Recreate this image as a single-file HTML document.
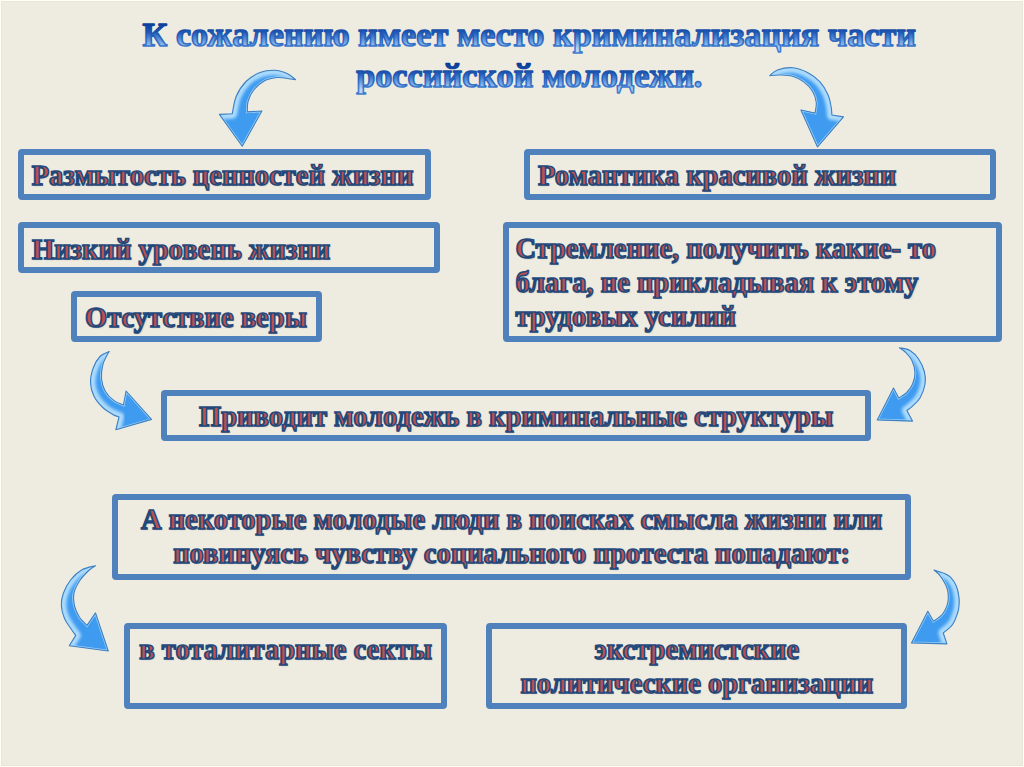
<!DOCTYPE html>
<html lang="ru"><head><meta charset="utf-8"><title>slide</title>
<style>
html,body{margin:0;padding:0;}
body{width:1024px;height:767px;overflow:hidden;background:#eeece1;position:relative;font-family:"Liberation Serif",serif;}
.bx{position:absolute;box-sizing:border-box;border:6px solid #4f81bd;border-radius:4px;}
.t{position:absolute;letter-spacing:0.04px;white-space:nowrap;font-weight:bold;font-size:28.44px;line-height:34.1px;color:#c0504d;-webkit-text-stroke:1.6px #1f497d;text-shadow:1px 1px 1.2px rgba(0,0,0,.3);}
.c{transform:translateX(-50%);text-align:center;}
svg{position:absolute;left:0;top:0;}
</style></head><body>
<svg width="1024" height="120" viewBox="0 0 1024 120" style="font-family:'Liberation Serif',serif;font-weight:bold;font-size:34.13px"><defs><linearGradient id="tf0" gradientUnits="userSpaceOnUse" x1="0" y1="22.0" x2="0" y2="49.0"><stop offset="0" stop-color="#08368f"/><stop offset="0.38" stop-color="#1d59bb"/><stop offset="0.8" stop-color="#82b2e9"/><stop offset="1" stop-color="#bcd7f5"/></linearGradient><linearGradient id="ts0" gradientUnits="userSpaceOnUse" x1="0" y1="22.0" x2="0" y2="49.0"><stop offset="0" stop-color="#0b3a96"/><stop offset="1" stop-color="#3f7dd2"/></linearGradient><linearGradient id="tf1" gradientUnits="userSpaceOnUse" x1="0" y1="62.8" x2="0" y2="89.8"><stop offset="0" stop-color="#08368f"/><stop offset="0.38" stop-color="#1d59bb"/><stop offset="0.8" stop-color="#82b2e9"/><stop offset="1" stop-color="#bcd7f5"/></linearGradient><linearGradient id="ts1" gradientUnits="userSpaceOnUse" x1="0" y1="62.8" x2="0" y2="89.8"><stop offset="0" stop-color="#0b3a96"/><stop offset="1" stop-color="#3f7dd2"/></linearGradient></defs><text x="529.3" y="46.0" text-anchor="middle" fill="url(#tf0)" stroke="url(#ts0)" stroke-width="1.55" stroke-linejoin="round" letter-spacing="0.05">К сожалению имеет место криминализация части</text><text x="529.3" y="86.8" text-anchor="middle" fill="url(#tf1)" stroke="url(#ts1)" stroke-width="1.55" stroke-linejoin="round" letter-spacing="0.05">российской молодежи.</text></svg>
<div class="bx" style="left:18.10px;top:148.50px;width:412.90px;height:51.25px"></div>
<div class="bx" style="left:18.10px;top:222.00px;width:421.90px;height:50.75px"></div>
<div class="bx" style="left:71.00px;top:291.20px;width:251.25px;height:51.10px"></div>
<div class="bx" style="left:524.30px;top:148.50px;width:471.70px;height:51.25px"></div>
<div class="bx" style="left:502.50px;top:222.00px;width:499.25px;height:120.40px"></div>
<div class="bx" style="left:161.25px;top:390.00px;width:709.75px;height:50.50px"></div>
<div class="bx" style="left:112.10px;top:493.75px;width:799.40px;height:85.85px"></div>
<div class="bx" style="left:124.25px;top:623.40px;width:323.00px;height:85.35px"></div>
<div class="bx" style="left:486.00px;top:623.25px;width:421.00px;height:85.50px"></div>
<div class="t" style="left:31.70px;top:158.54px">Размытость ценностей жизни</div>
<div class="t" style="left:32.00px;top:232.84px">Низкий уровень жизни</div>
<div class="t" style="left:85.00px;top:300.84px">Отсутствие веры</div>
<div class="t" style="left:538.00px;top:158.59px">Романтика красивой жизни</div>
<div class="t" style="left:515.40px;top:231.54px">Стремление, получить какие- то<br>блага, не прикладывая к этому<br>трудовых усилий</div>
<div class="t c" style="left:516.10px;top:400.09px">Приводит молодежь в криминальные структуры</div>
<div class="t c" style="left:511.60px;top:503.34px">А некоторые молодые люди в поисках смысла жизни или<br>повинуясь чувству социального протеста попадают:</div>
<div class="t" style="left:139.25px;top:632.59px">в тоталитарные секты</div>
<div class="t c" style="left:696.80px;top:632.59px">экстремистские<br>политические организации</div>
<svg width="1024" height="767" viewBox="0 0 1024 767"><defs><filter id="bl" x="-20%" y="-20%" width="140%" height="140%"><feGaussianBlur stdDeviation="1.6"/></filter><clipPath id="c0"><path d="M295.60 79.75C294.25 78.75 290.93 75.33 287.50 73.75C284.07 72.17 279.58 70.46 275.00 70.25C270.42 70.04 264.79 70.67 260.00 72.50C255.21 74.33 250.21 77.29 246.25 81.25C242.29 85.21 238.58 90.83 236.25 96.25C233.92 101.67 232.92 110.83 232.25 113.75L219.40 114.40L242.25 146.25L261.90 111.00L247.25 111.90C247.39 110.12 247.02 104.90 248.10 101.25C249.18 97.60 250.93 93.44 253.75 90.00C256.57 86.56 261.04 82.68 265.00 80.60C268.96 78.52 273.75 77.85 277.50 77.50C281.25 77.15 284.48 78.12 287.50 78.50C290.52 78.88 294.25 79.54 295.60 79.75Z"/></clipPath><clipPath id="c1"><path d="M769.75 75.60C771.04 74.67 773.71 71.31 777.50 70.00C781.29 68.69 787.50 67.33 792.50 67.75C797.50 68.17 802.92 70.14 807.50 72.50C812.08 74.86 816.57 78.15 820.00 81.90C823.43 85.65 826.23 90.73 828.10 95.00C829.98 99.27 830.62 104.17 831.25 107.50C831.88 110.83 831.79 113.75 831.90 115.00L843.50 116.90L817.50 146.90L800.90 110.00L815.00 113.10C815.21 111.33 816.67 106.14 816.25 102.50C815.83 98.86 814.58 94.68 812.50 91.25C810.42 87.82 807.08 84.40 803.75 81.90C800.42 79.40 796.46 77.40 792.50 76.25C788.54 75.10 783.79 75.11 780.00 75.00C776.21 74.89 771.46 75.50 769.75 75.60Z"/></clipPath><clipPath id="c2"><path d="M109.25 351.50C107.75 352.29 102.89 353.58 100.25 356.25C97.61 358.92 95.03 363.12 93.40 367.50C91.78 371.88 90.40 377.71 90.50 382.50C90.60 387.29 91.96 392.08 94.00 396.25C96.04 400.42 99.62 404.48 102.75 407.50C105.88 410.52 110.04 412.83 112.75 414.40C115.46 415.97 117.96 416.48 119.00 416.90L115.90 429.75L151.50 419.40L126.10 391.00L123.40 405.00C121.83 404.27 117.03 402.89 114.00 400.60C110.97 398.31 107.33 394.89 105.25 391.25C103.17 387.61 101.92 383.12 101.50 378.75C101.08 374.38 101.82 368.96 102.75 365.00C103.68 361.04 106.02 357.25 107.10 355.00C108.18 352.75 108.89 352.08 109.25 351.50Z"/></clipPath><clipPath id="c3"><path d="M899.40 347.75C901.17 348.21 906.77 348.58 910.00 350.50C913.23 352.42 916.35 355.71 918.75 359.25C921.15 362.79 923.36 367.58 924.40 371.75C925.44 375.92 925.73 379.88 925.00 384.25C924.27 388.62 922.08 394.36 920.00 398.00C917.92 401.64 914.68 404.02 912.50 406.10C910.32 408.18 907.83 409.77 906.90 410.50L912.50 421.10L877.25 419.90L893.50 388.00L898.75 398.00C900.00 397.17 903.96 395.29 906.25 393.00C908.54 390.71 911.04 387.58 912.50 384.25C913.96 380.92 915.10 376.96 915.00 373.00C914.90 369.04 913.57 364.04 911.90 360.50C910.23 356.96 907.08 353.88 905.00 351.75C902.92 349.62 900.33 348.42 899.40 347.75Z"/></clipPath><clipPath id="c4"><path d="M95.50 565.75C93.25 566.42 86.12 567.42 82.00 569.75C77.88 572.08 73.88 575.79 70.75 579.75C67.62 583.71 64.81 589.12 63.25 593.50C61.69 597.88 61.19 601.83 61.40 606.00C61.61 610.17 62.94 614.75 64.50 618.50C66.06 622.25 68.88 625.68 70.75 628.50C72.62 631.32 74.92 634.25 75.75 635.40L69.25 645.75L108.25 651.00L95.50 612.90L87.00 625.40C85.75 624.04 81.58 620.48 79.50 617.25C77.42 614.02 75.43 609.96 74.50 606.00C73.57 602.04 73.07 597.67 73.90 593.50C74.73 589.33 77.11 584.75 79.50 581.00C81.89 577.25 85.58 573.54 88.25 571.00C90.92 568.46 94.29 566.62 95.50 565.75Z"/></clipPath><clipPath id="c5"><path d="M934.00 570.00C935.78 570.60 941.95 572.40 944.70 573.60C947.45 574.80 948.58 575.17 950.50 577.20C952.42 579.23 954.78 582.45 956.20 585.80C957.62 589.15 958.53 593.95 959.00 597.30C959.47 600.65 959.23 603.28 959.00 605.90C958.77 608.52 958.67 609.90 957.60 613.00C956.53 616.10 954.98 621.17 952.60 624.50C950.22 627.83 944.85 631.58 943.30 633.00L946.90 643.90L911.50 642.90L927.80 611.30L933.50 621.20C934.42 620.57 937.37 618.77 939.00 617.40C940.63 616.03 941.98 614.92 943.30 613.00C944.62 611.08 946.07 608.28 946.90 605.90C947.73 603.52 948.18 601.33 948.30 598.70C948.42 596.07 948.20 592.72 947.60 590.10C947.00 587.48 946.13 585.62 944.70 583.00C943.27 580.38 940.78 576.57 939.00 574.40C937.22 572.23 934.83 570.73 934.00 570.00Z"/></clipPath></defs>
<path d="M295.60 79.75C294.25 78.75 290.93 75.33 287.50 73.75C284.07 72.17 279.58 70.46 275.00 70.25C270.42 70.04 264.79 70.67 260.00 72.50C255.21 74.33 250.21 77.29 246.25 81.25C242.29 85.21 238.58 90.83 236.25 96.25C233.92 101.67 232.92 110.83 232.25 113.75L219.40 114.40L242.25 146.25L261.90 111.00L247.25 111.90C247.39 110.12 247.02 104.90 248.10 101.25C249.18 97.60 250.93 93.44 253.75 90.00C256.57 86.56 261.04 82.68 265.00 80.60C268.96 78.52 273.75 77.85 277.50 77.50C281.25 77.15 284.48 78.12 287.50 78.50C290.52 78.88 294.25 79.54 295.60 79.75Z" fill="#3e9bf0"/>
<g clip-path="url(#c0)"><path d="M295.60 79.75C294.25 78.75 290.93 75.33 287.50 73.75C284.07 72.17 279.58 70.46 275.00 70.25C270.42 70.04 264.79 70.67 260.00 72.50C255.21 74.33 250.21 77.29 246.25 81.25C242.29 85.21 238.58 90.83 236.25 96.25C233.92 101.67 232.92 110.83 232.25 113.75L219.40 114.40" fill="none" stroke="#acdbfd" stroke-width="10" stroke-linejoin="round" filter="url(#bl)"/><path d="M295.60 79.75C294.25 78.75 290.93 75.33 287.50 73.75C284.07 72.17 279.58 70.46 275.00 70.25C270.42 70.04 264.79 70.67 260.00 72.50C255.21 74.33 250.21 77.29 246.25 81.25C242.29 85.21 238.58 90.83 236.25 96.25C233.92 101.67 232.92 110.83 232.25 113.75L219.40 114.40L242.25 146.25L261.90 111.00L247.25 111.90C247.39 110.12 247.02 104.90 248.10 101.25C249.18 97.60 250.93 93.44 253.75 90.00C256.57 86.56 261.04 82.68 265.00 80.60C268.96 78.52 273.75 77.85 277.50 77.50C281.25 77.15 284.48 78.12 287.50 78.50C290.52 78.88 294.25 79.54 295.60 79.75Z" fill="none" stroke="#a6d8fc" stroke-width="2.6" stroke-linejoin="miter" opacity=".85"/></g>
<path d="M295.60 79.75C294.25 78.75 290.93 75.33 287.50 73.75C284.07 72.17 279.58 70.46 275.00 70.25C270.42 70.04 264.79 70.67 260.00 72.50C255.21 74.33 250.21 77.29 246.25 81.25C242.29 85.21 238.58 90.83 236.25 96.25C233.92 101.67 232.92 110.83 232.25 113.75L219.40 114.40L242.25 146.25L261.90 111.00L247.25 111.90C247.39 110.12 247.02 104.90 248.10 101.25C249.18 97.60 250.93 93.44 253.75 90.00C256.57 86.56 261.04 82.68 265.00 80.60C268.96 78.52 273.75 77.85 277.50 77.50C281.25 77.15 284.48 78.12 287.50 78.50C290.52 78.88 294.25 79.54 295.60 79.75Z" fill="none" stroke="#3f80c2" stroke-width="1.1" stroke-linejoin="round"/>
<path d="M769.75 75.60C771.04 74.67 773.71 71.31 777.50 70.00C781.29 68.69 787.50 67.33 792.50 67.75C797.50 68.17 802.92 70.14 807.50 72.50C812.08 74.86 816.57 78.15 820.00 81.90C823.43 85.65 826.23 90.73 828.10 95.00C829.98 99.27 830.62 104.17 831.25 107.50C831.88 110.83 831.79 113.75 831.90 115.00L843.50 116.90L817.50 146.90L800.90 110.00L815.00 113.10C815.21 111.33 816.67 106.14 816.25 102.50C815.83 98.86 814.58 94.68 812.50 91.25C810.42 87.82 807.08 84.40 803.75 81.90C800.42 79.40 796.46 77.40 792.50 76.25C788.54 75.10 783.79 75.11 780.00 75.00C776.21 74.89 771.46 75.50 769.75 75.60Z" fill="#3e9bf0"/>
<g clip-path="url(#c1)"><path d="M769.75 75.60C771.04 74.67 773.71 71.31 777.50 70.00C781.29 68.69 787.50 67.33 792.50 67.75C797.50 68.17 802.92 70.14 807.50 72.50C812.08 74.86 816.57 78.15 820.00 81.90C823.43 85.65 826.23 90.73 828.10 95.00C829.98 99.27 830.62 104.17 831.25 107.50C831.88 110.83 831.79 113.75 831.90 115.00L843.50 116.90" fill="none" stroke="#acdbfd" stroke-width="10" stroke-linejoin="round" filter="url(#bl)"/><path d="M769.75 75.60C771.04 74.67 773.71 71.31 777.50 70.00C781.29 68.69 787.50 67.33 792.50 67.75C797.50 68.17 802.92 70.14 807.50 72.50C812.08 74.86 816.57 78.15 820.00 81.90C823.43 85.65 826.23 90.73 828.10 95.00C829.98 99.27 830.62 104.17 831.25 107.50C831.88 110.83 831.79 113.75 831.90 115.00L843.50 116.90L817.50 146.90L800.90 110.00L815.00 113.10C815.21 111.33 816.67 106.14 816.25 102.50C815.83 98.86 814.58 94.68 812.50 91.25C810.42 87.82 807.08 84.40 803.75 81.90C800.42 79.40 796.46 77.40 792.50 76.25C788.54 75.10 783.79 75.11 780.00 75.00C776.21 74.89 771.46 75.50 769.75 75.60Z" fill="none" stroke="#a6d8fc" stroke-width="2.6" stroke-linejoin="miter" opacity=".85"/></g>
<path d="M769.75 75.60C771.04 74.67 773.71 71.31 777.50 70.00C781.29 68.69 787.50 67.33 792.50 67.75C797.50 68.17 802.92 70.14 807.50 72.50C812.08 74.86 816.57 78.15 820.00 81.90C823.43 85.65 826.23 90.73 828.10 95.00C829.98 99.27 830.62 104.17 831.25 107.50C831.88 110.83 831.79 113.75 831.90 115.00L843.50 116.90L817.50 146.90L800.90 110.00L815.00 113.10C815.21 111.33 816.67 106.14 816.25 102.50C815.83 98.86 814.58 94.68 812.50 91.25C810.42 87.82 807.08 84.40 803.75 81.90C800.42 79.40 796.46 77.40 792.50 76.25C788.54 75.10 783.79 75.11 780.00 75.00C776.21 74.89 771.46 75.50 769.75 75.60Z" fill="none" stroke="#3f80c2" stroke-width="1.1" stroke-linejoin="round"/>
<path d="M109.25 351.50C107.75 352.29 102.89 353.58 100.25 356.25C97.61 358.92 95.03 363.12 93.40 367.50C91.78 371.88 90.40 377.71 90.50 382.50C90.60 387.29 91.96 392.08 94.00 396.25C96.04 400.42 99.62 404.48 102.75 407.50C105.88 410.52 110.04 412.83 112.75 414.40C115.46 415.97 117.96 416.48 119.00 416.90L115.90 429.75L151.50 419.40L126.10 391.00L123.40 405.00C121.83 404.27 117.03 402.89 114.00 400.60C110.97 398.31 107.33 394.89 105.25 391.25C103.17 387.61 101.92 383.12 101.50 378.75C101.08 374.38 101.82 368.96 102.75 365.00C103.68 361.04 106.02 357.25 107.10 355.00C108.18 352.75 108.89 352.08 109.25 351.50Z" fill="#3e9bf0"/>
<g clip-path="url(#c2)"><path d="M109.25 351.50C107.75 352.29 102.89 353.58 100.25 356.25C97.61 358.92 95.03 363.12 93.40 367.50C91.78 371.88 90.40 377.71 90.50 382.50C90.60 387.29 91.96 392.08 94.00 396.25C96.04 400.42 99.62 404.48 102.75 407.50C105.88 410.52 110.04 412.83 112.75 414.40C115.46 415.97 117.96 416.48 119.00 416.90L115.90 429.75" fill="none" stroke="#acdbfd" stroke-width="10" stroke-linejoin="round" filter="url(#bl)"/><path d="M109.25 351.50C107.75 352.29 102.89 353.58 100.25 356.25C97.61 358.92 95.03 363.12 93.40 367.50C91.78 371.88 90.40 377.71 90.50 382.50C90.60 387.29 91.96 392.08 94.00 396.25C96.04 400.42 99.62 404.48 102.75 407.50C105.88 410.52 110.04 412.83 112.75 414.40C115.46 415.97 117.96 416.48 119.00 416.90L115.90 429.75L151.50 419.40L126.10 391.00L123.40 405.00C121.83 404.27 117.03 402.89 114.00 400.60C110.97 398.31 107.33 394.89 105.25 391.25C103.17 387.61 101.92 383.12 101.50 378.75C101.08 374.38 101.82 368.96 102.75 365.00C103.68 361.04 106.02 357.25 107.10 355.00C108.18 352.75 108.89 352.08 109.25 351.50Z" fill="none" stroke="#a6d8fc" stroke-width="2.6" stroke-linejoin="miter" opacity=".85"/></g>
<path d="M109.25 351.50C107.75 352.29 102.89 353.58 100.25 356.25C97.61 358.92 95.03 363.12 93.40 367.50C91.78 371.88 90.40 377.71 90.50 382.50C90.60 387.29 91.96 392.08 94.00 396.25C96.04 400.42 99.62 404.48 102.75 407.50C105.88 410.52 110.04 412.83 112.75 414.40C115.46 415.97 117.96 416.48 119.00 416.90L115.90 429.75L151.50 419.40L126.10 391.00L123.40 405.00C121.83 404.27 117.03 402.89 114.00 400.60C110.97 398.31 107.33 394.89 105.25 391.25C103.17 387.61 101.92 383.12 101.50 378.75C101.08 374.38 101.82 368.96 102.75 365.00C103.68 361.04 106.02 357.25 107.10 355.00C108.18 352.75 108.89 352.08 109.25 351.50Z" fill="none" stroke="#3f80c2" stroke-width="1.1" stroke-linejoin="round"/>
<path d="M899.40 347.75C901.17 348.21 906.77 348.58 910.00 350.50C913.23 352.42 916.35 355.71 918.75 359.25C921.15 362.79 923.36 367.58 924.40 371.75C925.44 375.92 925.73 379.88 925.00 384.25C924.27 388.62 922.08 394.36 920.00 398.00C917.92 401.64 914.68 404.02 912.50 406.10C910.32 408.18 907.83 409.77 906.90 410.50L912.50 421.10L877.25 419.90L893.50 388.00L898.75 398.00C900.00 397.17 903.96 395.29 906.25 393.00C908.54 390.71 911.04 387.58 912.50 384.25C913.96 380.92 915.10 376.96 915.00 373.00C914.90 369.04 913.57 364.04 911.90 360.50C910.23 356.96 907.08 353.88 905.00 351.75C902.92 349.62 900.33 348.42 899.40 347.75Z" fill="#3e9bf0"/>
<g clip-path="url(#c3)"><path d="M899.40 347.75C901.17 348.21 906.77 348.58 910.00 350.50C913.23 352.42 916.35 355.71 918.75 359.25C921.15 362.79 923.36 367.58 924.40 371.75C925.44 375.92 925.73 379.88 925.00 384.25C924.27 388.62 922.08 394.36 920.00 398.00C917.92 401.64 914.68 404.02 912.50 406.10C910.32 408.18 907.83 409.77 906.90 410.50L912.50 421.10" fill="none" stroke="#acdbfd" stroke-width="10" stroke-linejoin="round" filter="url(#bl)"/><path d="M899.40 347.75C901.17 348.21 906.77 348.58 910.00 350.50C913.23 352.42 916.35 355.71 918.75 359.25C921.15 362.79 923.36 367.58 924.40 371.75C925.44 375.92 925.73 379.88 925.00 384.25C924.27 388.62 922.08 394.36 920.00 398.00C917.92 401.64 914.68 404.02 912.50 406.10C910.32 408.18 907.83 409.77 906.90 410.50L912.50 421.10L877.25 419.90L893.50 388.00L898.75 398.00C900.00 397.17 903.96 395.29 906.25 393.00C908.54 390.71 911.04 387.58 912.50 384.25C913.96 380.92 915.10 376.96 915.00 373.00C914.90 369.04 913.57 364.04 911.90 360.50C910.23 356.96 907.08 353.88 905.00 351.75C902.92 349.62 900.33 348.42 899.40 347.75Z" fill="none" stroke="#a6d8fc" stroke-width="2.6" stroke-linejoin="miter" opacity=".85"/></g>
<path d="M899.40 347.75C901.17 348.21 906.77 348.58 910.00 350.50C913.23 352.42 916.35 355.71 918.75 359.25C921.15 362.79 923.36 367.58 924.40 371.75C925.44 375.92 925.73 379.88 925.00 384.25C924.27 388.62 922.08 394.36 920.00 398.00C917.92 401.64 914.68 404.02 912.50 406.10C910.32 408.18 907.83 409.77 906.90 410.50L912.50 421.10L877.25 419.90L893.50 388.00L898.75 398.00C900.00 397.17 903.96 395.29 906.25 393.00C908.54 390.71 911.04 387.58 912.50 384.25C913.96 380.92 915.10 376.96 915.00 373.00C914.90 369.04 913.57 364.04 911.90 360.50C910.23 356.96 907.08 353.88 905.00 351.75C902.92 349.62 900.33 348.42 899.40 347.75Z" fill="none" stroke="#3f80c2" stroke-width="1.1" stroke-linejoin="round"/>
<path d="M95.50 565.75C93.25 566.42 86.12 567.42 82.00 569.75C77.88 572.08 73.88 575.79 70.75 579.75C67.62 583.71 64.81 589.12 63.25 593.50C61.69 597.88 61.19 601.83 61.40 606.00C61.61 610.17 62.94 614.75 64.50 618.50C66.06 622.25 68.88 625.68 70.75 628.50C72.62 631.32 74.92 634.25 75.75 635.40L69.25 645.75L108.25 651.00L95.50 612.90L87.00 625.40C85.75 624.04 81.58 620.48 79.50 617.25C77.42 614.02 75.43 609.96 74.50 606.00C73.57 602.04 73.07 597.67 73.90 593.50C74.73 589.33 77.11 584.75 79.50 581.00C81.89 577.25 85.58 573.54 88.25 571.00C90.92 568.46 94.29 566.62 95.50 565.75Z" fill="#3e9bf0"/>
<g clip-path="url(#c4)"><path d="M95.50 565.75C93.25 566.42 86.12 567.42 82.00 569.75C77.88 572.08 73.88 575.79 70.75 579.75C67.62 583.71 64.81 589.12 63.25 593.50C61.69 597.88 61.19 601.83 61.40 606.00C61.61 610.17 62.94 614.75 64.50 618.50C66.06 622.25 68.88 625.68 70.75 628.50C72.62 631.32 74.92 634.25 75.75 635.40L69.25 645.75" fill="none" stroke="#acdbfd" stroke-width="10" stroke-linejoin="round" filter="url(#bl)"/><path d="M95.50 565.75C93.25 566.42 86.12 567.42 82.00 569.75C77.88 572.08 73.88 575.79 70.75 579.75C67.62 583.71 64.81 589.12 63.25 593.50C61.69 597.88 61.19 601.83 61.40 606.00C61.61 610.17 62.94 614.75 64.50 618.50C66.06 622.25 68.88 625.68 70.75 628.50C72.62 631.32 74.92 634.25 75.75 635.40L69.25 645.75L108.25 651.00L95.50 612.90L87.00 625.40C85.75 624.04 81.58 620.48 79.50 617.25C77.42 614.02 75.43 609.96 74.50 606.00C73.57 602.04 73.07 597.67 73.90 593.50C74.73 589.33 77.11 584.75 79.50 581.00C81.89 577.25 85.58 573.54 88.25 571.00C90.92 568.46 94.29 566.62 95.50 565.75Z" fill="none" stroke="#a6d8fc" stroke-width="2.6" stroke-linejoin="miter" opacity=".85"/></g>
<path d="M95.50 565.75C93.25 566.42 86.12 567.42 82.00 569.75C77.88 572.08 73.88 575.79 70.75 579.75C67.62 583.71 64.81 589.12 63.25 593.50C61.69 597.88 61.19 601.83 61.40 606.00C61.61 610.17 62.94 614.75 64.50 618.50C66.06 622.25 68.88 625.68 70.75 628.50C72.62 631.32 74.92 634.25 75.75 635.40L69.25 645.75L108.25 651.00L95.50 612.90L87.00 625.40C85.75 624.04 81.58 620.48 79.50 617.25C77.42 614.02 75.43 609.96 74.50 606.00C73.57 602.04 73.07 597.67 73.90 593.50C74.73 589.33 77.11 584.75 79.50 581.00C81.89 577.25 85.58 573.54 88.25 571.00C90.92 568.46 94.29 566.62 95.50 565.75Z" fill="none" stroke="#3f80c2" stroke-width="1.1" stroke-linejoin="round"/>
<path d="M934.00 570.00C935.78 570.60 941.95 572.40 944.70 573.60C947.45 574.80 948.58 575.17 950.50 577.20C952.42 579.23 954.78 582.45 956.20 585.80C957.62 589.15 958.53 593.95 959.00 597.30C959.47 600.65 959.23 603.28 959.00 605.90C958.77 608.52 958.67 609.90 957.60 613.00C956.53 616.10 954.98 621.17 952.60 624.50C950.22 627.83 944.85 631.58 943.30 633.00L946.90 643.90L911.50 642.90L927.80 611.30L933.50 621.20C934.42 620.57 937.37 618.77 939.00 617.40C940.63 616.03 941.98 614.92 943.30 613.00C944.62 611.08 946.07 608.28 946.90 605.90C947.73 603.52 948.18 601.33 948.30 598.70C948.42 596.07 948.20 592.72 947.60 590.10C947.00 587.48 946.13 585.62 944.70 583.00C943.27 580.38 940.78 576.57 939.00 574.40C937.22 572.23 934.83 570.73 934.00 570.00Z" fill="#3e9bf0"/>
<g clip-path="url(#c5)"><path d="M934.00 570.00C935.78 570.60 941.95 572.40 944.70 573.60C947.45 574.80 948.58 575.17 950.50 577.20C952.42 579.23 954.78 582.45 956.20 585.80C957.62 589.15 958.53 593.95 959.00 597.30C959.47 600.65 959.23 603.28 959.00 605.90C958.77 608.52 958.67 609.90 957.60 613.00C956.53 616.10 954.98 621.17 952.60 624.50C950.22 627.83 944.85 631.58 943.30 633.00L946.90 643.90" fill="none" stroke="#acdbfd" stroke-width="10" stroke-linejoin="round" filter="url(#bl)"/><path d="M934.00 570.00C935.78 570.60 941.95 572.40 944.70 573.60C947.45 574.80 948.58 575.17 950.50 577.20C952.42 579.23 954.78 582.45 956.20 585.80C957.62 589.15 958.53 593.95 959.00 597.30C959.47 600.65 959.23 603.28 959.00 605.90C958.77 608.52 958.67 609.90 957.60 613.00C956.53 616.10 954.98 621.17 952.60 624.50C950.22 627.83 944.85 631.58 943.30 633.00L946.90 643.90L911.50 642.90L927.80 611.30L933.50 621.20C934.42 620.57 937.37 618.77 939.00 617.40C940.63 616.03 941.98 614.92 943.30 613.00C944.62 611.08 946.07 608.28 946.90 605.90C947.73 603.52 948.18 601.33 948.30 598.70C948.42 596.07 948.20 592.72 947.60 590.10C947.00 587.48 946.13 585.62 944.70 583.00C943.27 580.38 940.78 576.57 939.00 574.40C937.22 572.23 934.83 570.73 934.00 570.00Z" fill="none" stroke="#a6d8fc" stroke-width="2.6" stroke-linejoin="miter" opacity=".85"/></g>
<path d="M934.00 570.00C935.78 570.60 941.95 572.40 944.70 573.60C947.45 574.80 948.58 575.17 950.50 577.20C952.42 579.23 954.78 582.45 956.20 585.80C957.62 589.15 958.53 593.95 959.00 597.30C959.47 600.65 959.23 603.28 959.00 605.90C958.77 608.52 958.67 609.90 957.60 613.00C956.53 616.10 954.98 621.17 952.60 624.50C950.22 627.83 944.85 631.58 943.30 633.00L946.90 643.90L911.50 642.90L927.80 611.30L933.50 621.20C934.42 620.57 937.37 618.77 939.00 617.40C940.63 616.03 941.98 614.92 943.30 613.00C944.62 611.08 946.07 608.28 946.90 605.90C947.73 603.52 948.18 601.33 948.30 598.70C948.42 596.07 948.20 592.72 947.60 590.10C947.00 587.48 946.13 585.62 944.70 583.00C943.27 580.38 940.78 576.57 939.00 574.40C937.22 572.23 934.83 570.73 934.00 570.00Z" fill="none" stroke="#3f80c2" stroke-width="1.1" stroke-linejoin="round"/>
</svg>
<div style="position:absolute;left:0;top:0;width:1022px;height:765px;border:1px solid #fefef3;box-shadow:inset 0 0 0 1px #e8e6da"></div>
</body></html>
